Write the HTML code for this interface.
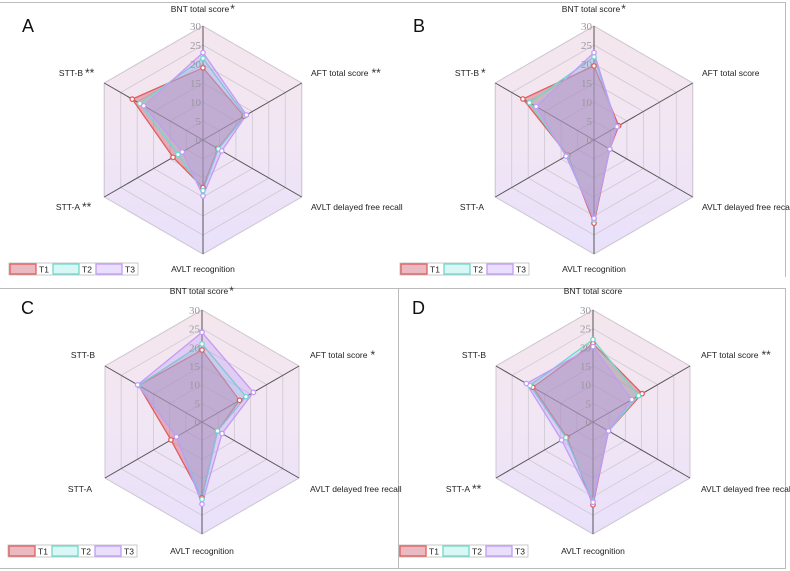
<!DOCTYPE html>
<html><head><meta charset="utf-8">
<style>
html,body{margin:0;padding:0;background:#fff;}
svg{display:block;font-family:"Liberation Sans",sans-serif;}
</style></head>
<body>
<svg id="chart" width="790" height="571" viewBox="0 0 790 571" xmlns="http://www.w3.org/2000/svg">
<defs>
<linearGradient id="bg" x1="0" y1="0" x2="0" y2="1">
<stop offset="0" stop-color="#f5e6ec"/>
<stop offset="0.5" stop-color="#f1e6f4"/>
<stop offset="1" stop-color="#e9e0fb"/>
</linearGradient>
</defs>
<g stroke="#bbb" stroke-width="1" fill="none">
<line x1="0" y1="2.5" x2="786" y2="2.5"/>
<line x1="785.5" y1="2" x2="785.5" y2="277"/>
<line x1="0" y1="288.5" x2="786" y2="288.5"/>
<line x1="398.5" y1="288" x2="398.5" y2="569"/>
<line x1="785.5" y1="288" x2="785.5" y2="569"/>
<line x1="0" y1="568.5" x2="786" y2="568.5"/>
</g>
</svg>
<script>
const axisNames = ["BNT total score","AFT total score","AVLT delayed free recall","AVLT recognition","STT-A","STT-B"];
const tickValues = [0,5,10,15,20,25,30];
const seriesNames = ["T1","T2","T3"];
const panelLetters = ["A","B","C","D"];
const panelA_T1 = [19,12.5,4.5,12.5,9.1,21.5];
const panelA_T2 = [21.5,12.8,4.7,13.3,7.6,19.2];
const panelA_T3 = [23,13.2,5.7,14.7,6.3,18];
const panelB_T1 = [19.5,7.5,4.8,21.9,8,21.6];
const panelB_T2 = [21.9,7,4.8,21,8.2,19.6];
const panelB_T3 = [23,7,4.8,20.6,8.5,17.6];
const panelC_T1 = [19.3,11.6,4.8,20.3,9.6,19.6];
const panelC_T2 = [20.9,13.6,4.8,20.7,7.9,19.6];
const panelC_T3 = [24,15.9,6.2,22,7.9,19.9];
const panelD_T1 = [21,15.2,4.8,22.2,8.1,18.6];
const panelD_T2 = [22.1,14.1,4.8,21.2,8.4,19.5];
const panelD_T3 = [20.2,12,4.8,21.5,9.7,20.6];
const panelStars = [
  ["*","**","","","**","**"],
  ["*","","","","","*"],
  ["*","*","","","",""],
  ["","**","","","**",""]
];

const panelSeries = [[panelA_T1,panelA_T2,panelA_T3],[panelB_T1,panelB_T2,panelB_T3],[panelC_T1,panelC_T2,panelC_T3],[panelD_T1,panelD_T2,panelD_T3]];
const layout = [{cx:203,cy:140,R:114},{cx:594,cy:140,R:114},{cx:202,cy:422,R:112},{cx:593,cy:422,R:112}];
const strokes = ["#e25d5d","#6ed9cd","#c39bf6"];
const fills = ["rgba(205,80,100,0.4)","rgba(120,225,215,0.28)","rgba(185,145,250,0.3)"];
const maxV = 30;
const angles = [90,30,-30,-90,-150,150];
const svg = document.getElementById('chart');
const NS = "http://www.w3.org/2000/svg";
function mk(tag, attrs, parent){const e=document.createElementNS(NS,tag);for(const k in attrs)e.setAttribute(k,attrs[k]);(parent||svg).appendChild(e);return e;}
function pt(p,i,v){const a=angles[i]*Math.PI/180;const r=v/maxV*p.R;return [p.cx+r*Math.cos(a),p.cy-r*Math.sin(a)];}

panelSeries.forEach((series,pi)=>{
  const p = layout[pi];
  const g = mk('g',{});
  
  
  const hex = angles.map((_,i)=>pt(p,i,maxV).join(',')).join(' ');
  const bg = mk('polygon',{points:hex,fill:'url(#bg)',stroke:'#cdc6d0','stroke-width':1},g);
  
  
  tickValues.slice(1).forEach(t=>{
    const ring = mk('polygon',{points:angles.map((_,i)=>pt(p,i,t).join(',')).join(' '),fill:'none',stroke:'#cfc8d3','stroke-width':0.8},g);
    
    
  });
  angles.forEach((_,i)=>{
    const e=pt(p,i,maxV);
    const sp = mk('line',{x1:p.cx,y1:p.cy,x2:e[0],y2:e[1],stroke:'#555','stroke-width':1},g);
    
    
  });
  series.forEach((vals,si)=>{
    const poly = mk('polygon',{points:vals.map((v,i)=>pt(p,i,v).join(',')).join(' '),fill:fills[si],stroke:strokes[si],'stroke-width':1.3,'stroke-linejoin':'round'},g);
    
    
  });
  series.forEach((vals,si)=>{
    vals.forEach((v,i)=>{
      const q=pt(p,i,v);
      const c = mk('circle',{cx:q[0],cy:q[1],r:2.2,fill:'#fff',stroke:strokes[si],'stroke-width':1.3},g);
      
      
    });
  });
  tickValues.forEach(t=>{
    const q=pt(p,0,t);
    const tx = mk('text',{x:p.cx-2,y:q[1]+4,'text-anchor':'end','font-size':11,fill:'#9a96a0','font-family':'"Liberation Serif",serif'},g);
    tx.textContent=t;
    
    
  });
  const lp = [
    {x:p.cx,y:p.cy-128,a:'middle'},
    {x:p.cx+108,y:p.cy-64,a:'start'},
    {x:p.cx+108,y:p.cy+70,a:'start'},
    {x:p.cx,y:p.cy+132,a:'middle'},
    {x:p.cx-110,y:p.cy+70,a:'end'},
    {x:p.cx-107,y:p.cy-64,a:'end'}
  ];
  axisNames.forEach((n,i)=>{
    const star = panelStars[pi][i];
    let ax = lp[i].x;
    if(star && lp[i].a==='middle') ax -= 3;
    if(star && lp[i].a==='end') ax -= (star.length*5+3);
    const tx = mk('text',{x:ax,y:lp[i].y,'text-anchor':lp[i].a,'font-size':8.5,fill:'#222'},g);
    tx.textContent=n;
    
    
    if(star){
      const w = tx.getComputedTextLength();
      let sx = lp[i].a==='start'? ax+w+3 : lp[i].a==='middle'? ax+w/2+1 : ax+2;
      const st = mk('text',{x:sx,y:lp[i].y+1,'font-size':12,fill:'#333'},g);
      st.textContent=star;
      
      
    }
  });
  const L = mk('text',{x:p.cx-181,y:p.cy-108,'font-size':18,fill:'#111'},g);
  L.textContent=panelLetters[pi];
  
  
  const lx = p.cx-193, ly = p.cy+124;
  const lg = mk('g',{},g);
  
  
  mk('rect',{x:lx-1,y:ly-1,width:129,height:12,fill:'#fff',stroke:'#bbb','stroke-width':0.8},lg);
  seriesNames.forEach((s,si)=>{
    const bx = lx+si*43;
    const r = mk('rect',{x:bx,y:ly,width:26,height:10,fill:fills[si],stroke:strokes[si],'stroke-width':1.3},lg);
    
    
    const t = mk('text',{x:bx+29,y:ly+8.5,'font-size':8.5,fill:'#222'},lg);
    t.textContent=s;
    
    
  });
});
</script>
</body></html>
